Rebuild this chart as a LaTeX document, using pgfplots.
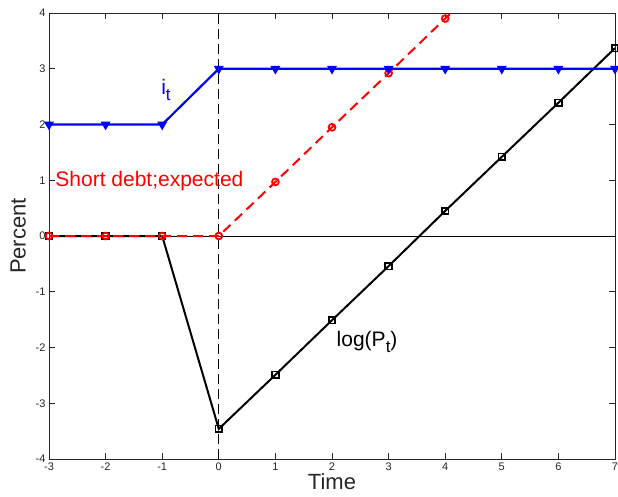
\documentclass[border=0pt]{standalone}
\usepackage{fontspec}
\setmainfont{Liberation Sans}
\usepackage{pgfplots}
\pgfplotsset{compat=1.18}
\definecolor{axgray}{RGB}{38,38,38}
\newcommand{\sub}[1]{\raisebox{-0.6ex}{\fontsize{17}{19}\selectfont #1}}
\begin{document}
\begin{tikzpicture}
\useasboundingbox (-49pt,-37pt) rectangle (569pt,459pt);
\begin{axis}[
  scale only axis, width=566pt, height=446pt,
  xmin=-3, xmax=7, ymin=-4, ymax=4,
  xtick={-3,...,7}, ytick={-4,...,4},
  tick align=inside, major tick length=6pt,
  axis line style={axgray, line width=0.7pt},
  every tick/.style={axgray, line width=0.7pt},
  tick label style={font=\fontsize{11}{13}\selectfont, text=axgray},
  /pgf/number format/assume math mode=true,
  xlabel={Time}, ylabel={Percent},
  label style={font=\fontsize{22}{25}\selectfont, text=axgray},
  xlabel style={yshift=4pt},
  ylabel style={yshift=3pt},
  clip=true,
]
\addplot[black, line width=0.7pt, forget plot] coordinates {(-3,0) (7,0)};
\addplot[black, line width=0.9pt, dash pattern=on 10pt off 5pt, forget plot] coordinates {(0,-4) (0,4)};
\addplot[black, line width=2pt, mark=square, mark size=3.3pt, mark options={solid, line width=1.8pt}]
 coordinates {(-3,0) (-2,0) (-1,0) (0,-3.46) (1,-2.49) (2,-1.51) (3,-0.54) (4,0.45) (5,1.42) (6,2.39) (7,3.37)};
\addplot[red, line width=2pt, dash pattern=on 10pt off 6pt, mark=o, mark size=3.4pt, mark options={solid, line width=1.8pt}]
 coordinates {(-3,0) (-2,0) (-1,0) (0,0) (1,0.97) (2,1.95) (3,2.92) (4,3.90) (5,4.87)};
\addplot[blue, line width=2.2pt, mark=triangle*, mark size=4.6pt, mark options={solid, rotate=180, line width=1.2pt}]
 coordinates {(-3,2) (-2,2) (-1,2) (0,3) (1,3) (2,3) (3,3) (4,3) (5,3) (6,3) (7,3)};
\node[blue, anchor=west, font=\fontsize{21}{24}\selectfont, inner sep=0pt] at (axis cs:-1.02,2.62) {i\sub{t}};
\node[red, anchor=west, font=\fontsize{21}{24}\selectfont, inner sep=0pt] at (axis cs:-2.89,0.99) {Short debt;expected};
\node[black, anchor=west, font=\fontsize{21}{24}\selectfont, inner sep=0pt] at (axis cs:2.08,-1.9) {log(P\sub{t})};
\end{axis}
\end{tikzpicture}
\end{document}
